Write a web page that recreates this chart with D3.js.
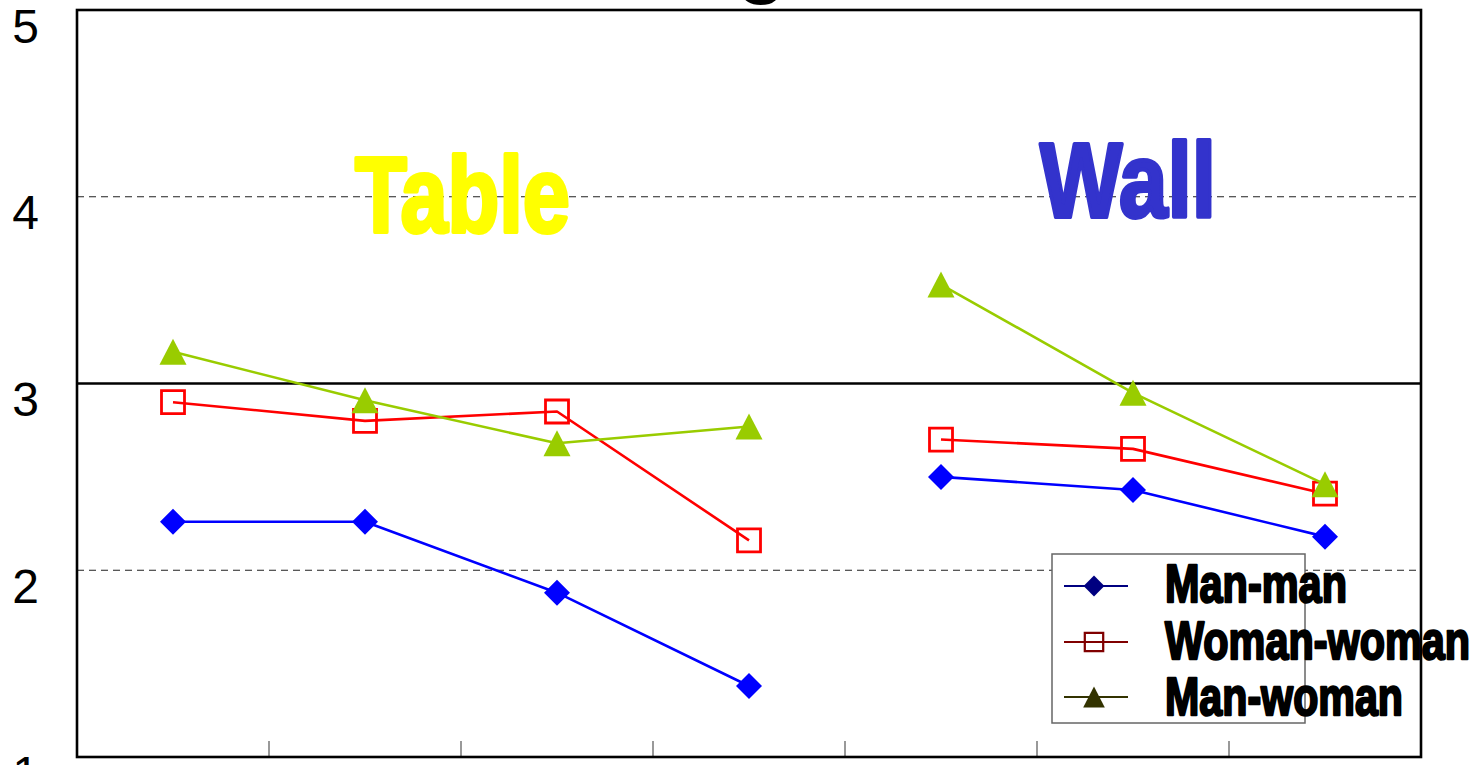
<!DOCTYPE html>
<html>
<head>
<meta charset="utf-8">
<script src="https://cdn.jsdelivr.net/npm/d3@7"></script>
<style>
  html, body { margin: 0; padding: 0; background: #fff; overflow: hidden; }
  svg { display: block; }
</style>
</head>
<body>
<svg id="chart" width="1480" height="765"></svg>
<script>
// Ratings by pairing, for table and wall conditions
const categories = ["T1", "T2", "T3", "T4", "W1", "W2", "W3"];
const groups = [
  { name: "Table", members: ["T1", "T2", "T3", "T4"] },
  { name: "Wall",  members: ["W1", "W2", "W3"] }
];
const seriesNames = ["Man-man", "Woman-woman", "Man-woman"];
const manMan     = [2.26, 2.26, 1.88, 1.38, 2.50, 2.43, 2.18];
const womanWoman = [2.90, 2.80, 2.85, 2.16, 2.70, 2.65, 2.41];
const manWoman   = [3.17, 2.91, 2.68, 2.77, 3.53, 2.95, 2.46];
const yTicks = [1, 2, 3, 4, 5];
const dashedLevels = [2, 4];
const referenceLevel = 3;
const titleText = "Rating";

const series = [
  { name: seriesNames[0], values: manMan,     color: "#0000FF", legendColor: "#000080", marker: "diamond" },
  { name: seriesNames[1], values: womanWoman, color: "#FF0000", legendColor: "#800000", marker: "square" },
  { name: seriesNames[2], values: manWoman,   color: "#99CC00", legendColor: "#333300", marker: "triangle" }
];

const svg = d3.select("#chart");
const plot = { left: 77, right: 1421, top: 10, bottom: 757 };

const x = d3.scaleBand().domain(categories).range([plot.left, plot.right]).paddingInner(0).paddingOuter(0);
const y = d3.scaleLinear().domain([1, 5]).range([plot.bottom, plot.top]);
const cx = c => x(c) + x.bandwidth() / 2;

// Title sits mostly above the visible area
svg.append("text")
  .attr("x", 786).attr("y", -12)
  .attr("text-anchor", "end")
  .attr("font-family", "Liberation Sans, Arial, sans-serif")
  .attr("font-weight", "bold")
  .attr("font-size", 80)
  .attr("fill", "#000")
  .text(titleText);

// Dashed gridlines
svg.append("g").selectAll("line")
  .data(dashedLevels).join("line")
  .attr("x1", plot.left).attr("x2", plot.right)
  .attr("y1", d => y(d)).attr("y2", d => y(d))
  .attr("stroke", "#222").attr("stroke-width", 1.1)
  .attr("stroke-dasharray", "7,5");

// Reference line at the scale midpoint
svg.append("line")
  .attr("x1", plot.left).attr("x2", plot.right)
  .attr("y1", y(referenceLevel)).attr("y2", y(referenceLevel))
  .attr("stroke", "#000").attr("stroke-width", 2.6);

// Category separators along the bottom
svg.append("g").selectAll("line")
  .data(categories.slice(1)).join("line")
  .attr("x1", d => x(d)).attr("x2", d => x(d))
  .attr("y1", plot.bottom).attr("y2", plot.bottom - 16)
  .attr("stroke", "#777").attr("stroke-width", 1.5);

// Y axis labels
const yAxis = d3.axisLeft(y).tickValues(yTicks).tickSize(0).tickPadding(0).tickFormat(d3.format("d"));
const yg = svg.append("g").attr("transform", "translate(39,0)").call(yAxis);
yg.select(".domain").remove();
yg.selectAll("text")
  .attr("font-family", "Liberation Sans, Arial, sans-serif")
  .attr("font-size", 48)
  .attr("fill", "#000")
  .attr("dy", 32)
  .attr("x", 0)
  .attr("text-anchor", "end");

// Group labels
const groupLabel = [
  { text: groups[0].name, color: "#FFFF00", xPos: 355, yPos: 232, size: 107, width: 215 },
  { text: groups[1].name, color: "#3333CC", xPos: 1040, yPos: 217, size: 106, width: 176 }
];
svg.append("g").selectAll("text")
  .data(groupLabel).join("text")
  .attr("x", d => d.xPos).attr("y", d => d.yPos)
  .attr("font-family", "Liberation Sans Narrow, Arial Narrow, Liberation Sans, sans-serif")
  .attr("font-weight", "bold")
  .attr("font-size", d => d.size)
  .attr("textLength", d => d.width)
  .attr("lengthAdjust", "spacingAndGlyphs")
  .attr("fill", d => d.color)
  .attr("stroke", d => d.color)
  .attr("stroke-width", 4)
  .attr("stroke-linejoin", "round")
  .text(d => d.text);

// Marker shapes
function markerPath(kind, s) {
  if (kind === "diamond") return `M0,${-s}L${s},0L0,${s}L${-s},0Z`;
  if (kind === "square") return `M${-s},${-s}H${s}V${s}H${-s}Z`;
  return `M0,${-s}L${s * 1.04},${s}L${-s * 1.04},${s}Z`;
}
function drawMarker(g, kind, color, px, py, scale) {
  if (kind === "diamond") {
    g.append("path").attr("d", markerPath(kind, 13 * scale)).attr("transform", `translate(${px},${py})`)
      .attr("fill", color);
  } else if (kind === "square") {
    g.append("path").attr("d", markerPath(kind, 11.5 * scale)).attr("transform", `translate(${px},${py})`)
      .attr("fill", "none").attr("stroke", color).attr("stroke-width", 2.8 * scale);
  } else {
    g.append("path").attr("d", markerPath(kind, 13 * scale)).attr("transform", `translate(${px},${py})`)
      .attr("fill", color);
  }
}

// Series lines (each group drawn as its own segment) and markers
const line = d3.line().x(d => cx(d.cat)).y(d => y(d.v));
series.forEach(s => {
  const g = svg.append("g");
  groups.forEach(grp => {
    const pts = grp.members.map(c => ({ cat: c, v: s.values[categories.indexOf(c)] }));
    g.append("path").datum(pts).attr("d", line)
      .attr("fill", "none").attr("stroke", s.color).attr("stroke-width", 2.6)
      .attr("stroke-linejoin", "round");
  });
  categories.forEach((c, i) => drawMarker(g, s.marker, s.color, cx(c), y(s.values[i]), 1));
});

// Plot frame
svg.append("rect")
  .attr("x", plot.left).attr("y", plot.top)
  .attr("width", plot.right - plot.left).attr("height", plot.bottom - plot.top)
  .attr("fill", "none").attr("stroke", "#000").attr("stroke-width", 2.6);

// Legend
const legend = svg.append("g");
legend.append("rect")
  .attr("x", 1052).attr("y", 554).attr("width", 253).attr("height", 169)
  .attr("fill", "#fff").attr("stroke", "#666").attr("stroke-width", 1.5);
const legendRows = [586, 642, 697];
const legendBase = [602, 659, 715];
const legendWidths = [182, 305, 238];
series.forEach((s, i) => {
  legend.append("line")
    .attr("x1", 1064).attr("x2", 1128)
    .attr("y1", legendRows[i]).attr("y2", legendRows[i])
    .attr("stroke", s.legendColor).attr("stroke-width", 2);
  drawMarker(legend, s.marker, s.legendColor, 1094, legendRows[i], 0.8);
  legend.append("text")
    .attr("x", 1165).attr("y", legendBase[i])
    .attr("font-family", "Liberation Sans Narrow, Arial Narrow, Liberation Sans, sans-serif")
    .attr("font-weight", "bold")
    .attr("font-size", 54)
    .attr("textLength", legendWidths[i])
    .attr("lengthAdjust", "spacingAndGlyphs")
    .attr("fill", "#000").attr("stroke", "#000").attr("stroke-width", 2.4)
    .attr("stroke-linejoin", "round")
    .text(s.name);
});
</script>
</body>
</html>
